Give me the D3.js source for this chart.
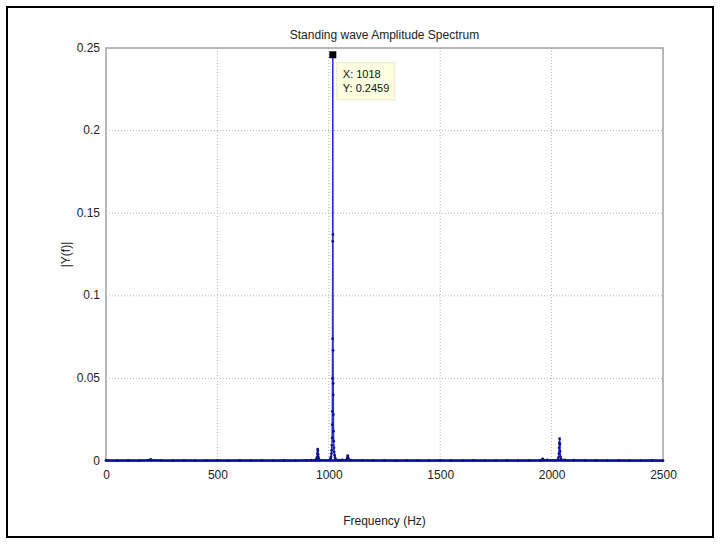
<!DOCTYPE html>
<html><head><meta charset="utf-8">
<script src="https://cdn.jsdelivr.net/npm/d3@7"></script>
<style>
body{margin:0;background:#fff;}
svg{display:block;font-family:"Liberation Sans",Arial,sans-serif;}
</style></head>
<body><svg id="c" width="720" height="544"></svg>
<script>
// ---- data ----
const baseFreq = [0,50,100,150,200,250,300,350,400,450,500,550,600,650,700,750,800,850,900,920,940,
  1060,1100,1150,1200,1250,1300,1350,1400,1450,1500,1550,1600,1650,1700,1750,1800,1850,1900,1950,1980,
  2060,2100,2150,2200,2250,2300,2350,2400,2450,2500];
const baseAmp = [0.0003,0.0002,0.0003,0.0002,0.0009,0.0003,0.0002,0.0003,0.0002,0.0002,0.0003,0.0002,0.0003,0.0002,0.0003,0.0002,0.0003,0.0002,0.0004,0.0005,0.0006,
  0.0006,0.0005,0.0004,0.0003,0.0003,0.0002,0.0003,0.0002,0.0002,0.0003,0.0002,0.0002,0.0003,0.0002,0.0002,0.0003,0.0002,0.0003,0.0004,0.0006,
  0.0006,0.0005,0.0004,0.0003,0.0002,0.0003,0.0002,0.0002,0.0003,0.0002];
// cluster near 950 Hz
const c1Freq = [945,947,949,950,951,952,953,955,957];
const c1Amp  = [0.0010,0.0022,0.0045,0.0072,0.0062,0.0040,0.0025,0.0012,0.0006];
// main peak near 1018 Hz
const c2Freq = [1005,1008,1010,1012,1013,1014,1015,1015.5,1016,1016.5,1017,1017.5,1018,1018.5,1019,1019.5,1020,1020.5,1021,1022,1023,1024,1026,1028,1031];
const c2Amp  = [0.0008,0.0015,0.0025,0.0045,0.0065,0.0095,0.0140,0.0220,0.0300,0.0500,0.0740,0.1330,0.2459,0.1370,0.0670,0.0470,0.0400,0.0280,0.0180,0.0120,0.0080,0.0055,0.0035,0.0020,0.0010];
// small bump near 1085 Hz
const c3Freq = [1080,1083,1085,1087,1090];
const c3Amp  = [0.0008,0.0020,0.0032,0.0020,0.0008];
// small bump near 1960 Hz
const c4Freq = [1957,1960,1963];
const c4Amp  = [0.0006,0.0012,0.0006];
// cluster near 2036 Hz
const c5Freq = [2028,2031,2033,2034,2035,2036,2037,2038,2040,2043];
const c5Amp  = [0.0008,0.0020,0.0045,0.0080,0.0110,0.0135,0.0100,0.0060,0.0025,0.0010];

const xTicks = [0,500,1000,1500,2000,2500];
const yTicks = [0,0.05,0.1,0.15,0.2,0.25];
const yTickLabels = ["0","0.05","0.1","0.15","0.2","0.25"];
const tipX = 1018, tipY = 0.2459;
const titleText = "Standing wave Amplitude Spectrum";
const xLabel = "Frequency (Hz)";
const yLabel = "|Y(f)|";

// ---- build ----
const pts = [];
[[baseFreq,baseAmp],[c1Freq,c1Amp],[c2Freq,c2Amp],[c3Freq,c3Amp],[c4Freq,c4Amp],[c5Freq,c5Amp]]
  .forEach(([f,a]) => f.forEach((v,i) => pts.push({f:v,a:a[i]})));
pts.sort((p,q)=>p.f-q.f);

const svg = d3.select("#c");
const L=106,R=663,T=48,B=461;
const x = d3.scaleLinear().domain([0,2500]).range([L,R]);
const y = d3.scaleLinear().domain([0,0.25]).range([B,T]);

// outer frame
svg.append("rect").attr("x",7).attr("y",7).attr("width",706).attr("height",530)
  .attr("fill","none").attr("stroke","#000").attr("stroke-width",2);

// grid
const g = svg.append("g");
g.selectAll(".gx").data(xTicks.slice(1,-1)).join("line")
  .attr("x1",d=>x(d)).attr("x2",d=>x(d)).attr("y1",T).attr("y2",B)
  .attr("stroke","#b4b4b4").attr("stroke-width",1).attr("stroke-dasharray","1,2");
g.selectAll(".gy").data(yTicks.slice(1,-1)).join("line")
  .attr("x1",L).attr("x2",R).attr("y1",d=>y(d)).attr("y2",d=>y(d))
  .attr("stroke","#b4b4b4").attr("stroke-width",1).attr("stroke-dasharray","1,2");

// axes
const xa = svg.append("g").attr("transform",`translate(0,${B})`)
  .call(d3.axisBottom(x).tickValues(xTicks).tickSize(0).tickPadding(9).tickFormat(d3.format("d")));
const ya = svg.append("g").attr("transform",`translate(${L},0)`)
  .call(d3.axisLeft(y).tickValues(yTicks).tickSize(0).tickPadding(6).tickFormat((d,i)=>yTickLabels[i]));
[xa,ya].forEach(a=>{a.select(".domain").remove();
  a.selectAll("text").attr("font-size",12).attr("fill","#222").attr("font-family","Liberation Sans, Arial, sans-serif");});
ya.selectAll("text").attr("dy","0.25em");

// box
svg.append("rect").attr("x",L).attr("y",T).attr("width",R-L).attr("height",B-T)
  .attr("fill","none").attr("stroke","#a0a0a0").attr("stroke-width",1.5);

// data line
const line = d3.line().x(d=>x(d.f)).y(d=>y(d.a));
svg.append("path").datum(pts).attr("d",line).attr("fill","none")
  .attr("stroke","#2a2ae0").attr("stroke-width",1.5);
svg.append("line").attr("x1",x(0)).attr("x2",x(2500)).attr("y1",y(0)-0.5).attr("y2",y(0)-0.5)
  .attr("stroke","#0a0aa8").attr("stroke-width",2.5);
svg.selectAll(".m").data(pts).join("circle")
  .attr("cx",d=>x(d.f)).attr("cy",d=>y(d.a)).attr("r",1.4).attr("fill","#10108a");

// data tip
svg.append("rect").attr("x",x(tipX)-3.5).attr("y",y(tipY)-3.5).attr("width",7).attr("height",7).attr("fill","#000");
const bx = x(tipX)+4, by = y(tipY)+8;
svg.append("rect").attr("x",bx).attr("y",by).attr("width",58).attr("height",37)
  .attr("fill","#ffffe1").attr("stroke","#e8e8c8").attr("stroke-width",1);
svg.append("text").attr("x",bx+6).attr("y",by+15).attr("font-size",11).attr("fill","#111").text("X: "+tipX);
svg.append("text").attr("x",bx+6).attr("y",by+29).attr("font-size",11).attr("fill","#111").text("Y: "+tipY);

// labels
svg.append("text").attr("x",(L+R)/2).attr("y",T-9).attr("text-anchor","middle")
  .attr("font-size",12).attr("fill","#222").text(titleText);
svg.append("text").attr("x",(L+R)/2).attr("y",B+64).attr("text-anchor","middle")
  .attr("font-size",12).attr("fill","#222").text(xLabel);
svg.append("text").attr("transform",`translate(${L-36},${(T+B)/2}) rotate(-90)`).attr("text-anchor","middle")
  .attr("font-size",12).attr("fill","#222").text(yLabel);
</script></body></html>
